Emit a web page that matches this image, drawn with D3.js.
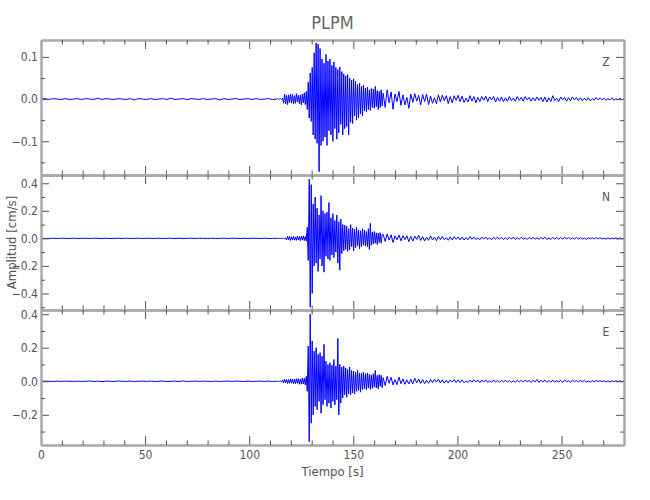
<!DOCTYPE html>
<html><head><meta charset="utf-8">
<script src="https://cdn.jsdelivr.net/npm/d3@7"></script>
<style>
body{margin:0;background:#fff;}
svg{display:block;font-family:"Liberation Sans Narrow","DejaVu Sans Condensed","Roboto",sans-serif;}
</style></head>
<body><svg id="c" width="650" height="500"></svg>
<script>
// ---- data (amplitudes in 0.001 cm/s) ----
const title = "PLPM";
const components = ["Z", "N", "E"];
const yDomains = [[-0.18, 0.14], [-0.52, 0.46], [-0.38, 0.425]];
const yMajorTicks = [[-0.1, 0.0, 0.1], [-0.4, -0.2, 0.0, 0.2, 0.4], [-0.2, 0.0, 0.2, 0.4]];
const yMinorTicks = [[-0.15, -0.05, 0.05], [-0.5, -0.3, -0.1, 0.1, 0.3], [-0.3, -0.1, 0.1, 0.3]];
const xMajorTicks = [0, 50, 100, 150, 200, 250];
const xMinorTicks = [10, 20, 30, 40, 60, 70, 80, 90, 110, 120, 130, 140, 160, 170, 180, 190, 210, 220, 230, 240, 260, 270];
const xDomain = [0, 280];
// segment start times / sample steps (s)
const preStart = 0, preStep = 1.95, mainStart = 113.2, mainStep = 0.4735, codaStart = 164.35, codaStep = 0.947;

const preZ = [0,1,-1,1,0,-1,1,-1,0,1, -1,1,0,-1,2,-1,1,0,-1,1, 0,-1,1,-2,1,0,-1,1,-1,0, 1,-1,2,-1,0,1,-1,1,0,-1, 1,-1,0,1,-2,1,-1,0,1,-1, 0,1,-1,1,-1,0,1,-1];
const mainZ = [
 0,1,-1,0,1,-1,2,-10,12,-11,
 9,-13,10,-8,12,-9,11,-12,8,-10,
 13,-7,9,-11,10,-14,12,-9,15,-13,
 18,-25,40,-45,62,-53,75,-85,110,-95,
 133,-105,130,-172,120,-110,95,-100,85,-90,
 106,-110,90,-75,95,-85,80,-100,88,-70,
 75,-95,70,-80,76,-60,65,-85,60,-70,
 55,-65,58,-85,50,-55,45,-58,48,-40,
 42,-50,35,-45,38,-35,30,-40,33,-28,
 26,-30,28,-25,22,-27,25,-20,24,-22,
 30,-18,20,-25,18,-20,22,-16];
const codaZ = [
 14,-20,22,-9,17,-24,12,-6,18,-15,
 10,-14,4,-22,12,-8,13,-5,9,-14,
 11,-6,12,-13,7,-10,3,-11,10,-7,
 9,-4,8,-11,6,-9,8,-3,9,-6,
 7,-8,2,-7,8,-5,6,-9,4,-6,
 6,-3,7,-6,5,-2,6,-7,4,-5,
 5,-6,3,-5,6,-4,2,-5,6,-3,
 4,-5,6,-2,4,-5,3,-4,5,-3,
 4,-6,5,-7,3,-6,8,-4,2,-6,
 5,-2,4,-5,3,-4,5,-2,4,-4,
 3,-4,2,-3,3,-4,1,-3,4,-2,
 3,-2,2,-3,1,-2,3,-3,1,-2,
 2,-2,1];

const preN = [1,-1,0,1,-1,1,0,-1,1,-1, 0,1,-1,1,0,-1,1,-1,0,1, -1,1,-1,0,1,-1,1,0,-1,1, -1,0,1,-1,1,-1,0,1,-1,1, 0,-1,1,-1,0,1,-1,1,0,-1, 1,-1,1,0,-1,1,-1,0];
const mainN = [
 0,1,-1,0,1,-1,0,1,-1,2,
 -12,15,-10,14,-16,12,-11,15,-13,10,
 -14,16,-12,13,-17,15,-12,18,-16,14,
 -20,80,-160,430,-500,390,-400,250,-200,300,
 -180,220,-240,170,-150,310,-200,200,-245,180,
 -130,190,-150,260,-160,150,-120,180,-140,130,
 -100,170,-180,120,-230,140,-110,100,-90,95,
 -80,90,-95,70,-85,100,-60,75,-90,65,
 -70,80,-55,60,-75,55,-60,70,-50,60,
 -55,50,-60,70,-80,110,-50,45,-40,50,
 -35,40,-45,38,-30,42,-35,30];
const codaN = [
 28,-22,32,-12,26,-30,18,-10,24,-18,
 20,-9,19,-24,14,-20,17,-8,22,-15,
 13,-19,8,-14,18,-12,10,-17,15,-9,
 13,-10,5,-14,11,-12,12,-6,10,-11,
 9,-12,6,-11,13,-7,10,-9,4,-10,
 9,-5,10,-9,6,-10,8,-4,9,-7,
 8,-9,4,-8,9,-6,10,-8,5,-7,
 8,-6,3,-8,7,-6,8,-7,4,-7,
 7,-5,8,-7,3,-8,7,-5,6,-6,
 6,-5,7,-3,6,-6,4,-6,7,-4,
 5,-6,3,-7,5,-4,5,-5,6,-3,
 5,-4,2,-6,4,-5,3,-4,5,-3,
 4,-3,2];

const preE = [-1,1,0,-1,1,-1,1,0,-1,1, -1,0,1,-1,1,-2,1,0,-1,1, 0,-1,1,-1,0,1,-1,1,-1,0, 1,-1,0,1,-1,2,-1,0,1,-1, 1,0,-1,1,-1,0,1,-1,1,0, -1,1,-1,0,1,-1,1,-1];
const mainE = [
 0,1,-1,0,1,-4,8,-10,12,-9,
 11,-13,10,-12,14,-11,13,-15,12,-14,
 15,-12,16,-18,14,-17,20,-16,18,-22,
 30,-60,210,-360,400,-250,240,-200,180,-150,
 200,-170,160,-120,170,-190,150,-140,220,-110,
 120,-150,100,-130,110,-160,95,-120,130,-140,
 90,-110,255,-200,100,-130,85,-100,90,-80,
 80,-95,70,-75,85,-80,65,-70,60,-75,
 55,-60,65,-55,50,-65,48,-50,55,-45,
 45,-50,50,-40,42,-48,38,-42,45,-35,
 65,-40,35,-45,40,-30,35,-38];
const codaE = [
 22,-26,30,-12,24,-22,10,-20,25,-15,
 14,-18,8,-16,12,-15,18,-9,14,-13,
 10,-14,5,-12,11,-9,12,-5,13,-10,
 9,-11,6,-10,8,-4,10,-8,9,-7,
 8,-9,3,-8,7,-6,9,-4,7,-8,
 7,-5,8,-7,3,-6,8,-5,6,-7,
 6,-4,7,-6,5,-7,3,-6,7,-4,
 6,-5,7,-3,5,-7,6,-4,11,-7,
 6,-3,7,-6,4,-6,7,-5,3,-5,
 5,-6,7,-3,4,-5,6,-3,5,-4,
 5,-3,6,-5,2,-5,4,-4,5,-2,
 4,-3,4,-5,2,-4,3,-3,4,-2,
 3,-2,2];

const traces = [[preZ, mainZ, codaZ], [preN, mainN, codaN], [preE, mainE, codaE]];

// ---- layout ----
const L = 41, R = 624, panelTop = 40, panelH = 135;
const axisColor = "#a9a9a9", tickColor = "#555", textColor = "#555";
const fontFam = "'Liberation Sans Narrow','DejaVu Sans Condensed',sans-serif";

const svg = d3.select("#c");
const x = d3.scaleLinear().domain(xDomain).range([L, R]);

function toPoints(segs) {
  const [pre, main, coda] = segs;
  const pts = [];
  pre.forEach((v, i) => pts.push([preStart + i * preStep, v / 1000]));
  main.forEach((v, i) => pts.push([mainStart + i * mainStep, v / 1000]));
  coda.forEach((v, i) => pts.push([codaStart + i * codaStep, v / 1000]));
  return pts;
}

const fmtY = d => (d < 0 ? "\u2212" : "") + Math.abs(d).toFixed(1);

components.forEach((comp, k) => {
  const top = panelTop + k * panelH, bot = top + panelH;
  const y = d3.scaleLinear().domain(yDomains[k]).range([bot, top]);
  const g = svg.append("g");

  g.append("clipPath").attr("id", "clip" + k).append("rect")
    .attr("x", L).attr("y", top).attr("width", R - L).attr("height", panelH);

  const line = d3.line().x(d => x(d[0])).y(d => y(d[1]));
  g.append("path").datum(toPoints(traces[k]))
    .attr("clip-path", `url(#clip${k})`)
    .attr("fill", "none").attr("stroke", "#0000ff").attr("stroke-width", 1)
    .attr("d", line);

  const isLast = k === components.length - 1;
  const axes = [
    [d3.axisBottom(x).tickValues(xMajorTicks).tickSize(-9).tickSizeOuter(0).tickPadding(5)
       .tickFormat(isLast ? d3.format("d") : () => ""), `translate(0,${bot})`],
    [d3.axisBottom(x).tickValues(xMinorTicks).tickSize(-4.5).tickSizeOuter(0).tickFormat(() => ""), `translate(0,${bot})`],
    [d3.axisTop(x).tickValues(xMajorTicks).tickSize(-9).tickSizeOuter(0).tickFormat(() => ""), `translate(0,${top})`],
    [d3.axisTop(x).tickValues(xMinorTicks).tickSize(-4.5).tickSizeOuter(0).tickFormat(() => ""), `translate(0,${top})`],
    [d3.axisLeft(y).tickValues(yMajorTicks[k]).tickSize(-8).tickSizeOuter(0).tickPadding(3).tickFormat(fmtY), `translate(${L},0)`],
    [d3.axisLeft(y).tickValues(yMinorTicks[k]).tickSize(-4).tickSizeOuter(0).tickFormat(() => ""), `translate(${L},0)`],
    [d3.axisRight(y).tickValues(yMajorTicks[k]).tickSize(-8).tickSizeOuter(0).tickFormat(() => ""), `translate(${R},0)`],
    [d3.axisRight(y).tickValues(yMinorTicks[k]).tickSize(-4).tickSizeOuter(0).tickFormat(() => ""), `translate(${R},0)`]
  ];
  axes.forEach(([ax, tr]) => {
    const a = g.append("g").attr("transform", tr).call(ax);
    a.select(".domain").attr("stroke", axisColor).attr("stroke-width", 2);
    a.selectAll(".tick line").attr("stroke", tickColor).attr("stroke-width", 1);
    a.selectAll(".tick text").attr("fill", textColor).style("font-size", "12px")
      .style("font-family", fontFam);
  });

  g.append("text").attr("x", 606).attr("y", top + 26)
    .attr("text-anchor", "middle").attr("fill", textColor).style("font-size", "12px")
    .text(comp);
});

svg.append("text").attr("x", (L + R) / 2).attr("y", 29).attr("text-anchor", "middle")
  .attr("fill", "#666").style("font-size", "18px").text(title);
svg.append("text").attr("x", (L + R) / 2).attr("y", 476).attr("text-anchor", "middle")
  .attr("fill", textColor).style("font-size", "13px").text("Tiempo  [s]");
svg.append("text").attr("transform", `translate(16,${panelTop + 1.5 * panelH}) rotate(-90)`)
  .attr("text-anchor", "middle").attr("fill", textColor).style("font-size", "13px")
  .text("Amplitud  [cm/s]");
</script></body></html>
